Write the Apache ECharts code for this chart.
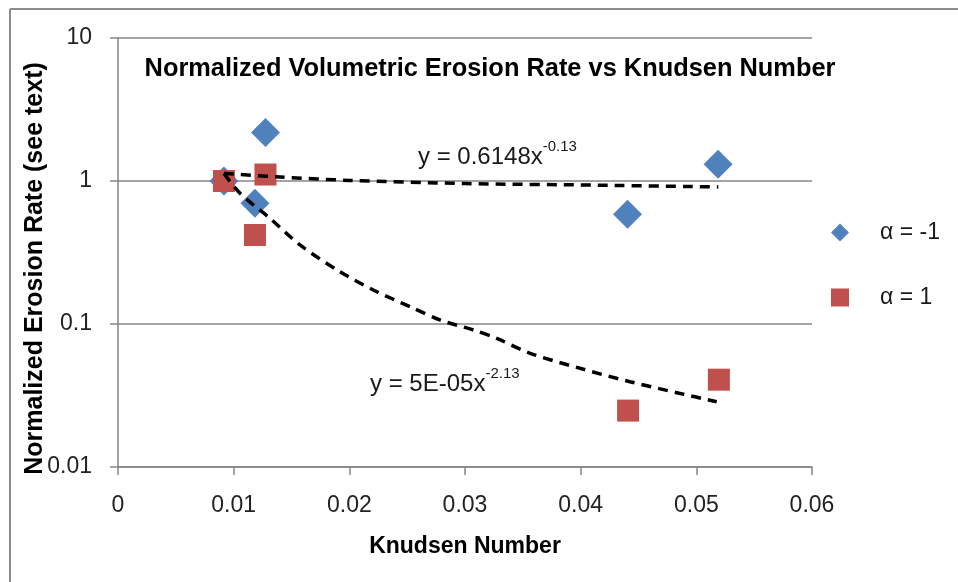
<!DOCTYPE html>
<html>
<head>
<meta charset="utf-8">
<script src="https://cdn.jsdelivr.net/npm/echarts@6/dist/echarts.min.js"></script>
<style>html,body{margin:0;padding:0;background:#fff}#c{width:958px;height:582px}</style>
</head>
<body>
<div id="c"></div>
<script>
// Data
const seriesNames = ['α = -1', 'α = 1'];
const alphaMinus1 = [[0.00916, 1.0], [0.01184, 0.70], [0.01275, 2.18], [0.04405, 0.585], [0.05188, 1.31]];
const alphaPlus1 = [[0.00916, 1.0], [0.01184, 0.419], [0.01275, 1.11], [0.04410, 0.0248], [0.05195, 0.0408]];
// Trend lines as drawn in the reference
const trendUpper = [[0.00916, 1.13], [0.0137, 1.07], [0.0200, 1.01], [0.0300, 0.96], [0.0417, 0.935], [0.0519, 0.908]];
const trendLower = [[0.00916, 1.13], [0.01055, 0.82], [0.01314, 0.548], [0.01573, 0.357], [0.01919, 0.232], [0.02207, 0.173], [0.02553, 0.129], [0.02784, 0.1067], [0.03072, 0.0908], [0.03274, 0.0794], [0.03562, 0.0624], [0.03994, 0.049], [0.04426, 0.0395], [0.04859, 0.0327], [0.05176, 0.0286]];
const xTicks = { min: 0, max: 0.06, interval: 0.01 };
const yTicks = { min: 0.01, max: 10 };
const titleText = 'Normalized Volumetric Erosion Rate vs Knudsen Number';
const xName = 'Knudsen Number';
const yName = 'Normalized Erosion Rate (see text)';
const eqUpper = ['y = 0.6148x', '-0.13'];
const eqLower = ['y = 5E-05x', '-2.13'];

const FONT = 'Liberation Sans';
const chart = echarts.init(document.getElementById('c'));
const axisGray = '#868686';
const eqRich = {
  b: { fontSize: 24, fontFamily: FONT, fill: '#1a1a1a', verticalAlign: 'bottom', lineHeight: 30 },
  s: { fontSize: 15, fontFamily: FONT, fill: '#1a1a1a', verticalAlign: 'top', lineHeight: 30, padding: [0, 0, 12, 0] }
};
chart.setOption({
  animation: false,
  backgroundColor: '#fff',
  textStyle: { fontFamily: FONT },
  title: {
    text: titleText,
    left: 485, top: 51, textAlign: 'center',
    textStyle: { fontFamily: FONT, fontWeight: 'bold', fontSize: 25.4, color: '#000' }
  },
  grid: { left: 118, right: 146, top: 38, bottom: 115 },
  legend: {
    orient: 'vertical', left: 826, top: 216,
    itemWidth: 18, itemHeight: 18, itemGap: 42,
    data: [{ name: seriesNames[0], icon: 'diamond' }, { name: seriesNames[1], icon: 'rect' }],
    textStyle: { fontFamily: FONT, fontSize: 23, color: '#1a1a1a', padding: [0, 0, 0, 26] }
  },
  xAxis: {
    type: 'value', min: xTicks.min, max: xTicks.max, interval: xTicks.interval,
    name: xName, nameLocation: 'middle', nameGap: 68, nameMoveOverlap: false,
    nameTextStyle: { fontFamily: FONT, fontWeight: 'bold', fontSize: 23, color: '#000' },
    axisLine: { show: true, lineStyle: { color: axisGray, width: 1.5 } },
    axisTick: { show: true, inside: false, length: 8, lineStyle: { color: axisGray, width: 1.5 } },
    axisLabel: { fontFamily: FONT, fontSize: 23, color: '#222', margin: 27,
      formatter: v => String(+v.toFixed(2)) },
    splitLine: { show: false }
  },
  yAxis: {
    type: 'log', logBase: 10, min: yTicks.min, max: yTicks.max,
    name: yName, nameLocation: 'middle', nameGap: 70, nameRotate: 90, nameMoveOverlap: false,
    nameTextStyle: { fontFamily: FONT, fontWeight: 'bold', fontSize: 25, color: '#000', padding: [0, 32, 0, 0] },
    axisLine: { show: true, lineStyle: { color: axisGray, width: 1.5 } },
    axisTick: { show: true, inside: false, length: 8, lineStyle: { color: axisGray, width: 1.5 } },
    axisLabel: { fontFamily: FONT, fontSize: 23, color: '#222', margin: 26,
      formatter: v => String(+(+v).toPrecision(2)) },
    splitLine: { show: true, lineStyle: { color: axisGray, width: 1.5 } }
  },
  series: [
    { name: seriesNames[0], type: 'scatter', symbol: 'diamond', symbolSize: 29,
      itemStyle: { color: '#4F81BD', opacity: 1 }, data: alphaMinus1, z: 2 },
    { name: seriesNames[1], type: 'scatter', symbol: 'rect', symbolSize: 22,
      itemStyle: { color: '#C0504D', opacity: 1 }, data: alphaPlus1, z: 3 },
    { name: 'trend1', type: 'line', data: trendUpper, showSymbol: false, symbol: 'none', smooth: 0.3,
      lineStyle: { color: '#000', width: 3.5, type: [10, 7] }, z: 4, silent: true },
    { name: 'trend2', type: 'line', data: trendLower, showSymbol: false, symbol: 'none', smooth: 0.3,
      lineStyle: { color: '#000', width: 3.5, type: [10, 7] }, z: 4, silent: true }
  ],
  graphic: [
    { type: 'line', shape: { x1: 10, y1: 9, x2: 958, y2: 9 }, style: { stroke: '#8c8c8c', lineWidth: 2 } },
    { type: 'line', shape: { x1: 10, y1: 9, x2: 10, y2: 582 }, style: { stroke: '#8c8c8c', lineWidth: 2 } },
    { type: 'text', left: 418, top: 139, style: { text: '{b|' + eqUpper[0] + '}{s|' + eqUpper[1] + '}', rich: eqRich } },
    { type: 'text', left: 370, top: 366, style: { text: '{b|' + eqLower[0] + '}{s|' + eqLower[1] + '}', rich: eqRich } }
  ]
});
</script>
</body>
</html>
